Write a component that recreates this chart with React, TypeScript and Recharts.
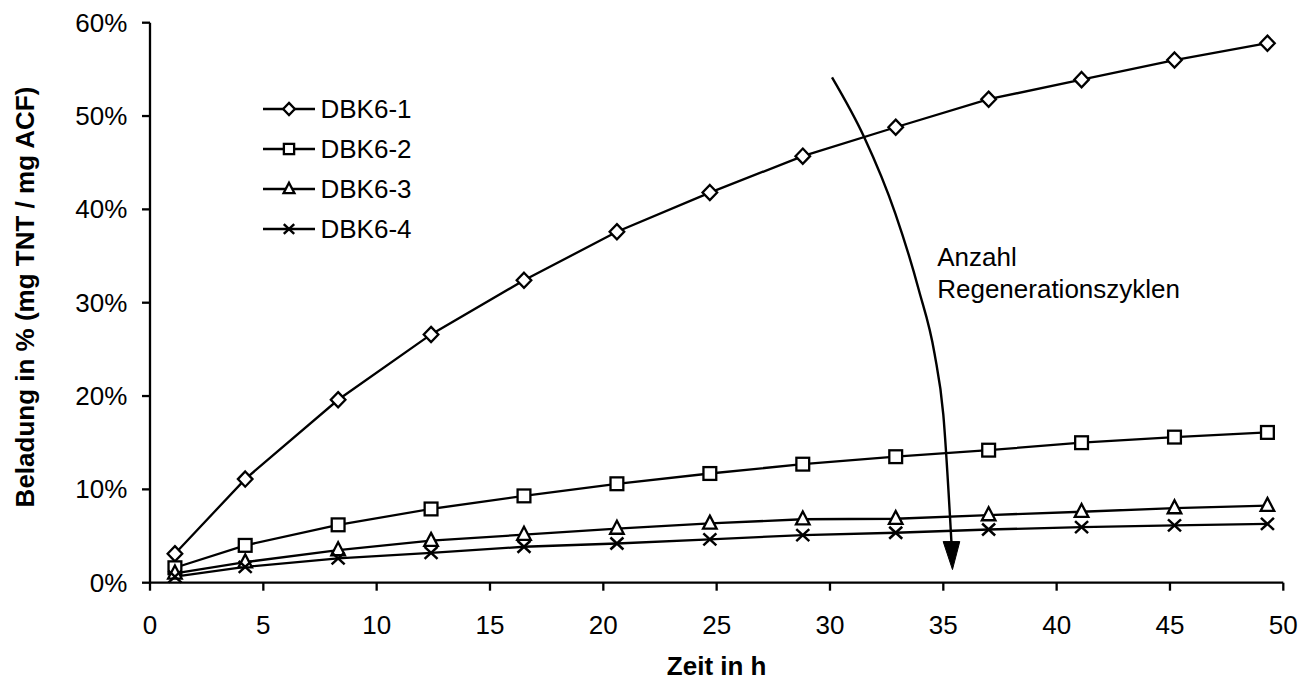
import React from 'react';
import { LineChart, Line, XAxis, YAxis, Legend, ReferenceDot, Label } from 'recharts';

// Sampling times (h)
const hours = [1.1, 4.2, 8.3, 12.4, 16.5, 20.6, 24.7, 28.8, 32.9, 37.0, 41.1, 45.2, 49.3];

// Loading in % (mg TNT / mg ACF) after each regeneration cycle
const dbk6_1 = [3.1, 11.1, 19.6, 26.6, 32.4, 37.6, 41.8, 45.7, 48.8, 51.8, 53.9, 56.0, 57.8];
const dbk6_2 = [1.6, 4.0, 6.2, 7.9, 9.3, 10.6, 11.7, 12.7, 13.5, 14.2, 15.0, 15.6, 16.1];
const dbk6_3 = [1.0, 2.2, 3.5, 4.5, 5.15, 5.8, 6.35, 6.8, 6.85, 7.25, 7.6, 8.0, 8.25];
const dbk6_4 = [0.65, 1.7, 2.6, 3.2, 3.85, 4.2, 4.65, 5.1, 5.35, 5.7, 5.95, 6.15, 6.3];

const seriesNames = ['DBK6-1', 'DBK6-2', 'DBK6-3', 'DBK6-4'];
const seriesValues = [dbk6_1, dbk6_2, dbk6_3, dbk6_4];

const xTicks = [0, 5, 10, 15, 20, 25, 30, 35, 40, 45, 50];
const yTicks = [0, 10, 20, 30, 40, 50, 60];

// Curved arrow "Anzahl Regenerationszyklen" (data coordinates)
const arrowHours = [30.09, 31.5, 32.88, 33.92, 34.61, 35.0, 35.36];
const arrowLoad = [54.15, 47.79, 39.58, 31.36, 24.58, 18.0, 4.3];
const annotationLines = ['Anzahl', 'Regenerationszyklen'];
const annotationAnchor = { t: 34.73, v: 33.93 };

const FONT = '"Liberation Sans", Arial, Helvetica, sans-serif';
const SW = 2.3;

type MarkerProps = { cx: number; cy: number; s?: number };

const Diamond = ({ cx, cy, s = 1 }: MarkerProps) => (
  <polygon
    points={`${cx},${cy - 7.6 * s} ${cx + 7.3 * s},${cy} ${cx},${cy + 7.6 * s} ${cx - 7.3 * s},${cy}`}
    fill="#fff"
    stroke="#000"
    strokeWidth={SW}
  />
);
const Square = ({ cx, cy, s = 1 }: MarkerProps) => (
  <rect x={cx - 6.4 * s} y={cy - 6.4 * s} width={12.8 * s} height={12.8 * s} fill="#fff" stroke="#000" strokeWidth={SW} />
);
const Triangle = ({ cx, cy, s = 1 }: MarkerProps) => (
  <polygon
    points={`${cx},${cy - 7.8 * s} ${cx + 6.8 * s},${cy + 5.2 * s} ${cx - 6.8 * s},${cy + 5.2 * s}`}
    fill="#fff"
    stroke="#000"
    strokeWidth={SW}
  />
);
const Cross = ({ cx, cy, s = 1 }: MarkerProps) => (
  <g stroke="#000" strokeWidth={SW + 0.2}>
    <line x1={cx - 6.5 * s} y1={cy - 6 * s} x2={cx + 6.5 * s} y2={cy + 6 * s} />
    <line x1={cx - 6.5 * s} y1={cy + 6 * s} x2={cx + 6.5 * s} y2={cy - 6 * s} />
  </g>
);
const markers = [Diamond, Square, Triangle, Cross];

const seriesData = seriesValues.map((vals) => hours.map((t, i) => ({ t, v: vals[i] })));
const arrowData = arrowHours.map((t, i) => ({ t, v: arrowLoad[i] }));

const YTick = (props: any) => {
  const { x, y, payload } = props;
  return (
    <text x={x} y={y + 9} textAnchor="end" fontSize={26} fontFamily={FONT} fill="#000">
      {`${payload.value}%`}
    </text>
  );
};

const XTick = (props: any) => {
  const { x, y, payload } = props;
  return (
    <text x={x} y={y + 39} textAnchor="middle" fontSize={26} fontFamily={FONT} fill="#000">
      {payload.value}
    </text>
  );
};

const ArrowHead = (props: any) => {
  const { cx, cy, index } = props;
  if (index !== arrowData.length - 1) return <g key={`ah-${index}`} />;
  return (
    <polygon
      key={`ah-${index}`}
      points={`${cx - 8.3},${cy - 1} ${cx + 8.3},${cy - 1} ${cx + 1},${cy + 27}`}
      fill="#000"
      stroke="#000"
      strokeWidth={1}
    />
  );
};

const LegendBox = () => (
  <svg width={190} height={160} style={{ display: 'block', overflow: 'visible' }}>
    {seriesNames.map((name, i) => {
      const M = markers[i];
      const cy = 20 + i * 40;
      return (
        <g key={name}>
          <line x1={1} y1={cy} x2={53} y2={cy} stroke="#000" strokeWidth={SW} />
          <M cx={27} cy={cy} s={0.8} />
          <text x={58.5} y={cy + 9} fontSize={26} fontFamily={FONT} fill="#000">
            {name}
          </text>
        </g>
      );
    })}
  </svg>
);

export default function App() {
  return (
    <div style={{ position: 'relative', width: 1305, height: 680, background: '#fff' }}>
      <LineChart width={1305} height={680} margin={{ top: 14.7, right: 29.7, bottom: 45.3, left: 0 }}>
        <XAxis
          type="number"
          dataKey="t"
          domain={[0, 50]}
          ticks={xTicks}
          interval={0}
          height={60}
          stroke="#000"
          axisLine={{ stroke: '#000', strokeWidth: SW }}
          tickLine={{ stroke: '#000', strokeWidth: SW }}
          tickSize={8}
          tickMargin={4}
          tick={<XTick />}
        >
          <Label
            content={(p: any) => {
              const vb = p.viewBox;
              const cx = vb.x + vb.width / 2;
              return (
                <text
                  x={cx}
                  y={vb.y + 92.3}
                  textAnchor="middle"
                  fontSize={26}
                  fontWeight="bold"
                  fontFamily={FONT}
                  fill="#000"
                >
                  Zeit in h
                </text>
              );
            }}
          />
        </XAxis>
        <YAxis
          type="number"
          domain={[0, 60]}
          ticks={yTicks}
          interval={0}
          width={142}
          stroke="#000"
          axisLine={{ stroke: '#000', strokeWidth: SW }}
          tickLine={{ stroke: '#000', strokeWidth: SW }}
          tickSize={8}
          tickMargin={14.7}
          tick={<YTick />}
        >
          <Label
            content={(p: any) => {
              const vb = p.viewBox;
              const x = vb.x + 26;
              const y = vb.y + vb.height / 2 - 5.7;
              return (
                <text
                  x={x}
                  y={y}
                  transform={`rotate(-90, ${x}, ${y})`}
                  textAnchor="middle"
                  fontSize={26}
                  fontWeight="bold"
                  fontFamily={FONT}
                  fill="#000"
                >
                  Beladung in % (mg TNT / mg ACF)
                </text>
              );
            }}
          />
        </YAxis>
        <Legend
          layout="vertical"
          align="center"
          verticalAlign="middle"
          wrapperStyle={{ left: 254, top: 81, width: 190, height: 160 }}
          content={() => <LegendBox />}
        />
        {seriesData.map((d, i) => {
          const M = markers[i];
          return (
            <Line
              key={seriesNames[i]}
              name={seriesNames[i]}
              data={d}
              dataKey="v"
              type="linear"
              stroke="#000"
              strokeWidth={SW}
              isAnimationActive={false}
              dot={(p: any) => <M key={`${seriesNames[i]}-${p.index}`} cx={p.cx} cy={p.cy} />}
              activeDot={false}
            />
          );
        })}
        <Line
          name="arrow"
          data={arrowData}
          dataKey="v"
          type="monotone"
          stroke="#000"
          strokeWidth={2.4}
          isAnimationActive={false}
          dot={ArrowHead}
          activeDot={false}
          legendType="none"
        />
        <ReferenceDot
          x={annotationAnchor.t}
          y={annotationAnchor.v}
          r={0}
          fill="none"
          stroke="none"
          label={{
            content: (p: any) => {
              const vb = p.viewBox;
              return (
                <text fontSize={26} fontFamily={FONT} fill="#000">
                  {annotationLines.map((line, i) => (
                    <tspan key={line} x={vb.x} y={vb.y + i * 32}>
                      {line}
                    </tspan>
                  ))}
                </text>
              );
            },
          }}
        />
      </LineChart>
    </div>
  );
}
